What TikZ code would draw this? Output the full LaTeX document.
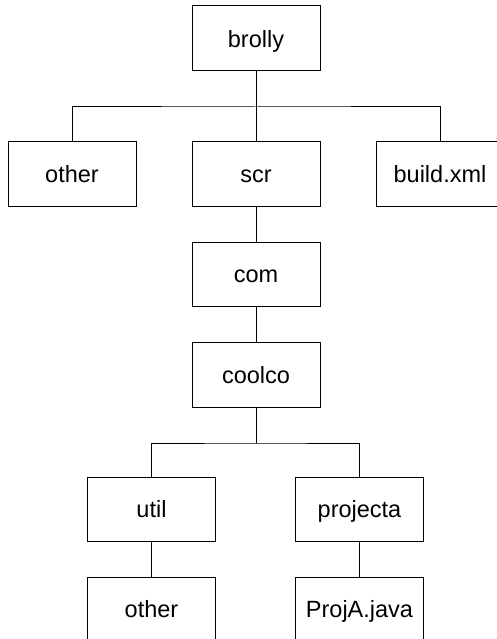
\documentclass[tikz,border=0pt]{standalone}
\usepackage{fontspec}
\setmainfont{Liberation Sans}
\begin{document}
\begin{tikzpicture}[x=1pt,y=-1pt,
  dirbox/.style={draw=black,line width=1pt,minimum width=128pt,minimum height=64pt,inner sep=0pt,text height=22pt,text depth=4.6pt,font=\fontsize{23.5}{27}\selectfont},
  link/.style={draw=black,line width=1pt}]
\useasboundingbox (0,0) rectangle (497,639);
\clip (0,0) rectangle (497,639);
\fill[white] (0,0) rectangle (497,639);
\node[dirbox,minimum height=65pt] (brolly) at (256,38.5) {brolly};
\node[dirbox] (other) at (72,174) {other};
\node[dirbox] (scr) at (256,174) {scr};
\node[dirbox] (build) at (440,174) {build.xml};
\node[dirbox] (com) at (256,274) {com};
\node[dirbox,minimum height=65pt] (coolco) at (256,374.5) {coolco};
\node[dirbox] (util) at (151.5,509) {util};
\node[dirbox] (projecta) at (359.5,509) {projecta};
\node[dirbox] (other2) at (151.5,609) {other};
\node[dirbox] (proja) at (359.5,609) {ProjA.java};
\coordinate (j1) at (256,107);
\coordinate (j2) at (256,443);
\draw[link] (brolly.south) -- (scr.north);
\draw[link] (other.north) |- (j1) -| (build.north);
\draw[link] (scr.south) -- (com.north);
\draw[link] (com.south) -- (coolco.north);
\draw[link] (coolco.south) -- (j2);
\draw[link] (util.north) |- (j2) -| (projecta.north);
\draw[link] (util.south) -- (other2.north);
\draw[link] (projecta.south) -- (proja.north);
\end{tikzpicture}
\end{document}
